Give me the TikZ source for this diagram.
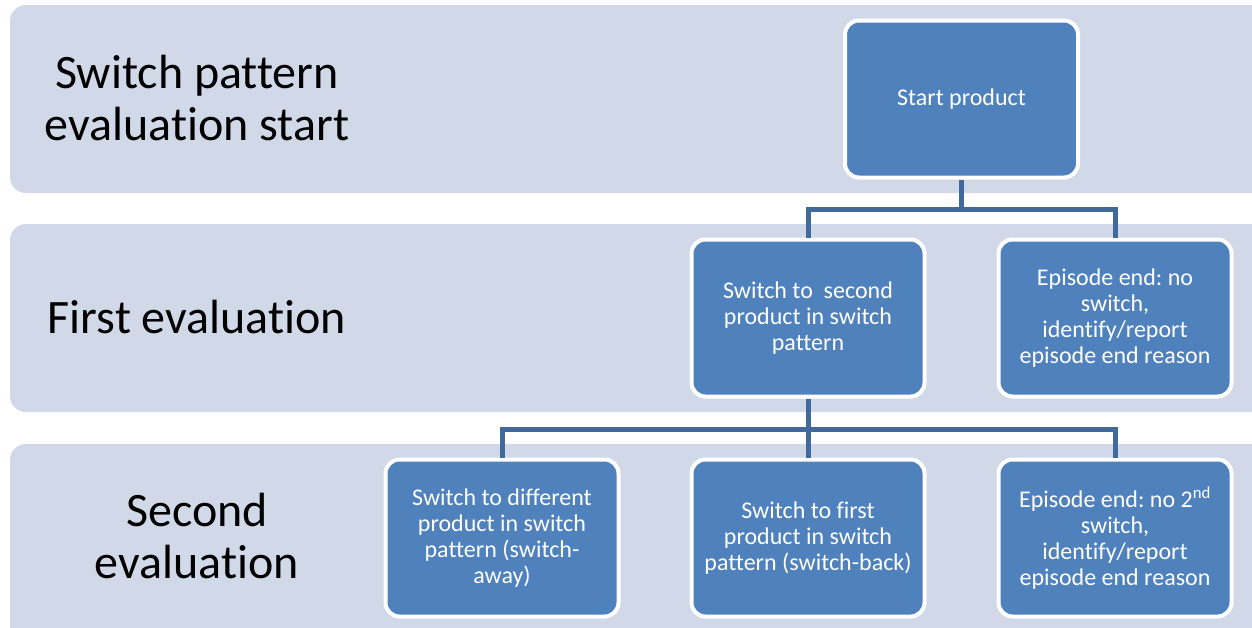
\documentclass[tikz,border=0pt]{standalone}
\usepackage{fontspec}
\setmainfont[Ligatures={NoCommon}]{Carlito}
\frenchspacing
\definecolor{bandc}{HTML}{D1D8E7}
\definecolor{boxc}{HTML}{4F81BD}
\definecolor{linec}{HTML}{41699C}
\tikzset{
  band/.style={fill=bandc, rounded corners=16pt},
  stepbox/.style={draw=white, line width=4pt, fill=boxc, rounded corners=14pt,
    minimum width=233pt, minimum height=157pt, align=center, text=white,
    font=\fontsize{24}{26}\selectfont, inner sep=0pt},
  lbl/.style={align=center, text=black, font=\fontsize{48}{52}\selectfont},
  conn/.style={draw=linec, line width=5pt}
}
\begin{document}
\begin{tikzpicture}[x=1pt,y=-1pt]
\useasboundingbox (0,0) rectangle (1252,627);
\clip (0,0) rectangle (1252,627);
\fill[white] (0,0) rectangle (1252,627);
% bands
\path[band] (10,5) rectangle (1275,193);
\path[band] (10,224) rectangle (1275,412);
\path[band] (10,444) rectangle (1275,660);
% labels
\node[lbl] (l1) at (197,98) {Switch pattern\\evaluation start};
\node[lbl] (l2) at (197,317) {First evaluation};
\node[lbl] (l3) at (197,536) {Second\\evaluation};
% boxes
\node[stepbox] (start) at (961.5,99) {Start product};
\node[stepbox] (b1) at (808,318) {Switch to\ \ second\\product in switch\\pattern};
\node[stepbox] (b2) at (1115,318) {Episode end: no\\switch,\\identify/report\\episode end reason};
\node[stepbox] (c1) at (502,538) {Switch to different\\product in switch\\pattern (switch-\\away)};
\node[stepbox] (c2) at (808,538) {Switch to first\\product in switch\\pattern (switch-back)};
\node[stepbox] (c3) at (1115,538) {Episode end: no 2\textsuperscript{nd}\\switch,\\identify/report\\episode end reason};
% connectors
\coordinate (j1) at (961.5,209);
\coordinate (j2) at (808,429);
\draw[conn] (start.south) -- (j1);
\draw[conn] (b1.north) |- (j1) -| (b2.north);
\draw[conn] (b1.south) -- (j2);
\draw[conn] (c1.north) |- (j2) -| (c3.north);
\draw[conn] (j2) -- (c2.north);
\end{tikzpicture}
\end{document}
